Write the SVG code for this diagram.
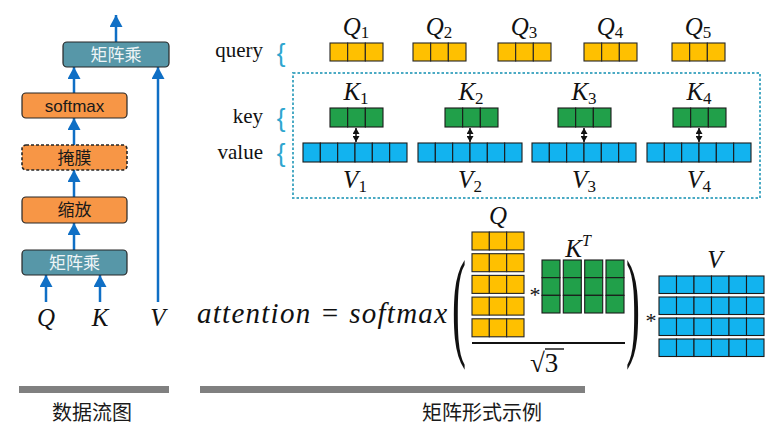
<svg xmlns="http://www.w3.org/2000/svg" width="771" height="431" viewBox="0 0 771 431">
<style>
.bx{stroke:#262626;stroke-width:1.2}
.teal{fill:#5797a8}
.org{fill:#f79646}
.cn{font-family:"Noto Sans CJK SC",sans-serif;font-size:17px;text-anchor:middle}
.lt{fill:#eef4f6}
.dk{fill:#1a1a1a}
.sm{font-family:"Liberation Sans",Arial,sans-serif;font-size:17px;text-anchor:middle;fill:#1a1a1a}
.flow{stroke:#0f6fc5;stroke-width:2.5;fill:none;marker-end:url(#ah)}
.math{font-family:"Liberation Serif","Times New Roman",serif;font-style:italic;fill:#111}
.lbl{font-family:"Liberation Serif","Times New Roman",serif;font-style:italic;fill:#111;font-size:25px;text-anchor:middle}
.sub{font-style:normal;font-size:17px}
.word{font-family:"Liberation Serif","Times New Roman",serif;font-size:21px;fill:#111;text-anchor:end}
.brace{font-family:"Liberation Sans",sans-serif;font-size:26px;fill:#2ea6cf;text-anchor:middle}
.y{fill:#ffc000;stroke:#262626;stroke-width:1.1}
.g{fill:#21a04a;stroke:#1a1a1a;stroke-width:1.1}
.c{fill:#12b3ef;stroke:#1a1a1a;stroke-width:1.1}
.dbl{stroke:#111;stroke-width:1.5;marker-start:url(#sa);marker-end:url(#sa)}
.bar{fill:#808080}
.cap{font-family:"Noto Sans CJK SC",sans-serif;font-size:20px;fill:#1a1a1a;text-anchor:middle}
.paren{font-family:"Liberation Serif","Times New Roman",serif;font-size:42px;fill:#111}
.star{font-family:"Liberation Serif","Times New Roman",serif;font-size:22px;fill:#111;text-anchor:middle}
</style>
<defs>
<marker id="ah" viewBox="0 0 12 13" refX="12" refY="6.5" markerWidth="12" markerHeight="13" markerUnits="userSpaceOnUse" orient="auto"><path d="M0,0 L12,6.5 L0,13 z" fill="#0f6fc5"/></marker>
<marker id="sa" viewBox="0 0 6 7" refX="6" refY="3.5" markerWidth="6" markerHeight="7" markerUnits="userSpaceOnUse" orient="auto-start-reverse"><path d="M0,0 L6,3.5 L0,7 z" fill="#111"/></marker>
<g id="q3"><rect class="y" x="0" y="0" width="17.67" height="18"/><rect class="y" x="17.67" y="0" width="17.67" height="18"/><rect class="y" x="35.33" y="0" width="17.67" height="18"/></g>
<g id="k3"><rect class="g" x="0" y="0" width="17.67" height="19"/><rect class="g" x="17.67" y="0" width="17.67" height="19"/><rect class="g" x="35.33" y="0" width="17.67" height="19"/></g>
<g id="v6"><rect class="c" x="0" y="0" width="17.33" height="19"/><rect class="c" x="17.33" y="0" width="17.33" height="19"/><rect class="c" x="34.67" y="0" width="17.33" height="19"/><rect class="c" x="52" y="0" width="17.33" height="19"/><rect class="c" x="69.33" y="0" width="17.33" height="19"/><rect class="c" x="86.67" y="0" width="17.33" height="19"/></g>
<g id="qr"><rect class="y" x="0" y="0" width="17.33" height="18"/><rect class="y" x="17.33" y="0" width="17.33" height="18"/><rect class="y" x="34.67" y="0" width="17.33" height="18"/></g>
<g id="kc"><rect class="g" x="0" y="0" width="18" height="17.67"/><rect class="g" x="0" y="17.67" width="18" height="17.67"/><rect class="g" x="0" y="35.33" width="18" height="17.67"/></g>
<g id="vr"><rect class="c" x="0" y="0" width="17.5" height="17.5"/><rect class="c" x="17.5" y="0" width="17.5" height="17.5"/><rect class="c" x="35" y="0" width="17.5" height="17.5"/><rect class="c" x="52.5" y="0" width="17.5" height="17.5"/><rect class="c" x="70" y="0" width="17.5" height="17.5"/><rect class="c" x="87.5" y="0" width="17.5" height="17.5"/></g>
</defs>

<!-- connectors -->
<g id="connectors">
<line class="flow" x1="116" y1="42" x2="116" y2="15"/>
<line class="flow" x1="74" y1="93" x2="74" y2="67"/>
<line class="flow" x1="74" y1="145" x2="74" y2="118"/>
<line class="flow" x1="74" y1="197" x2="74" y2="170"/>
<line class="flow" x1="74" y1="250" x2="74" y2="223"/>
<line class="flow" x1="46" y1="302" x2="46" y2="275"/>
<line class="flow" x1="100" y1="302" x2="100" y2="275"/>
<line class="flow" x1="158" y1="302" x2="158" y2="67"/>
<line class="dbl" x1="356" y1="128" x2="356" y2="142"/>
<line class="dbl" x1="470" y1="128" x2="470" y2="142"/>
<line class="dbl" x1="584" y1="128" x2="584" y2="142"/>
<line class="dbl" x1="699" y1="128" x2="699" y2="142"/>
</g>

<!-- left data flow -->
<g id="matmul-top"><rect class="bx teal" x="63" y="42" width="106" height="25" rx="4"/><text class="cn lt" x="116" y="61">矩阵乘</text></g>
<g id="softmax"><rect class="bx org" x="22" y="93" width="105" height="25" rx="4"/><text class="sm" x="74.5" y="112">softmax</text></g>
<g id="mask"><rect class="org" x="22" y="145" width="105" height="25" rx="4" stroke="#262626" stroke-width="1.6" stroke-dasharray="3 2"/><text class="cn dk" x="74.5" y="164">掩膜</text></g>
<g id="scale"><rect class="bx org" x="22" y="197" width="105" height="26" rx="4"/><text class="cn dk" x="74.5" y="216">缩放</text></g>
<g id="matmul-bottom"><rect class="bx teal" x="22" y="250" width="105" height="25" rx="4"/><text class="cn lt" x="74.5" y="269">矩阵乘</text></g>
<g id="in-q"><text class="lbl" x="46" y="326" font-size="26">Q</text></g>
<g id="in-k"><text class="lbl" x="100" y="326" font-size="26">K</text></g>
<g id="in-v"><text class="lbl" x="158" y="326" font-size="26">V</text></g>

<!-- row labels -->
<g id="row-labels">
<text class="word" x="263" y="57">query</text>
<text class="word" x="263" y="123">key</text>
<text class="word" x="263" y="159">value</text>
<text class="brace" x="281" y="62">{</text>
<text class="brace" x="281" y="127">{</text>
<text class="brace" x="281" y="162">{</text>
</g>

<!-- queries -->
<g id="q1"><use href="#q3" x="330" y="43"/><text class="lbl" x="356" y="35">Q<tspan class="sub" dy="3">1</tspan></text></g>
<g id="q2"><use href="#q3" x="413" y="43"/><text class="lbl" x="439" y="35">Q<tspan class="sub" dy="3">2</tspan></text></g>
<g id="q3n"><use href="#q3" x="498" y="43"/><text class="lbl" x="524" y="35">Q<tspan class="sub" dy="3">3</tspan></text></g>
<g id="q4"><use href="#q3" x="584" y="43"/><text class="lbl" x="610" y="35">Q<tspan class="sub" dy="3">4</tspan></text></g>
<g id="q5"><use href="#q3" x="672" y="43"/><text class="lbl" x="698" y="35">Q<tspan class="sub" dy="3">5</tspan></text></g>

<!-- key/value panel -->
<g id="kv-panel"><rect x="293" y="73" width="467" height="125" fill="none" stroke="#4aaac4" stroke-width="2" stroke-dasharray="2.5 2"/></g>
<g id="kv1"><text class="lbl" x="356" y="100">K<tspan class="sub" dy="4">1</tspan></text><use href="#k3" x="330" y="108"/><use href="#v6" x="303" y="143"/><text class="lbl" x="355" y="188">V<tspan class="sub" dy="4">1</tspan></text></g>
<g id="kv2"><text class="lbl" x="471" y="100">K<tspan class="sub" dy="4">2</tspan></text><use href="#k3" x="445" y="108"/><use href="#v6" x="418" y="143"/><text class="lbl" x="470" y="188">V<tspan class="sub" dy="4">2</tspan></text></g>
<g id="kv3"><text class="lbl" x="584" y="100">K<tspan class="sub" dy="4">3</tspan></text><use href="#k3" x="558" y="108"/><use href="#v6" x="532" y="143"/><text class="lbl" x="584" y="188">V<tspan class="sub" dy="4">3</tspan></text></g>
<g id="kv4"><text class="lbl" x="699" y="100">K<tspan class="sub" dy="4">4</tspan></text><use href="#k3" x="673" y="108"/><use href="#v6" x="647" y="143"/><text class="lbl" x="699" y="188">V<tspan class="sub" dy="4">4</tspan></text></g>

<!-- formula -->
<g id="formula">
<text class="math" x="197" y="323" font-size="29" textLength="250" lengthAdjust="spacing">attention = softmax</text>
<text class="paren" transform="translate(452,344) scale(1,2.85)">(</text>
<text class="paren" transform="translate(626,344) scale(1,2.85)">)</text>
<text class="lbl" x="498" y="224">Q</text>
<use href="#qr" x="472" y="232"/>
<use href="#qr" x="472" y="253.7"/>
<use href="#qr" x="472" y="275.4"/>
<use href="#qr" x="472" y="297.1"/>
<use href="#qr" x="472" y="318.8"/>
<text class="star" x="535" y="302">*</text>
<text class="lbl" x="578" y="257" font-size="24">K<tspan style="font-style:italic;font-size:16px" dy="-11">T</tspan></text>
<use href="#kc" x="542" y="260"/>
<use href="#kc" x="563.3" y="260"/>
<use href="#kc" x="584.7" y="260"/>
<use href="#kc" x="606" y="260"/>
<line x1="472" y1="343" x2="625" y2="343" stroke="#111" stroke-width="2"/>
<text x="530" y="372" font-family="Liberation Serif,serif" font-size="27" fill="#111">√3</text>
<line x1="545" y1="349" x2="564" y2="349" stroke="#111" stroke-width="1.4"/>
<text class="star" x="651" y="328">*</text>
<text class="lbl" x="715" y="268">V</text>
<use href="#vr" x="659" y="276"/>
<use href="#vr" x="659" y="297"/>
<use href="#vr" x="659" y="318"/>
<use href="#vr" x="659" y="339"/>
</g>

<!-- captions -->
<g id="captions">
<rect class="bar" x="19" y="386" width="150" height="7"/>
<rect class="bar" x="200" y="386" width="385" height="7"/>
<text class="cap" x="92" y="420">数据流图</text>
<text class="cap" x="482" y="420">矩阵形式示例</text>
</g>
</svg>
